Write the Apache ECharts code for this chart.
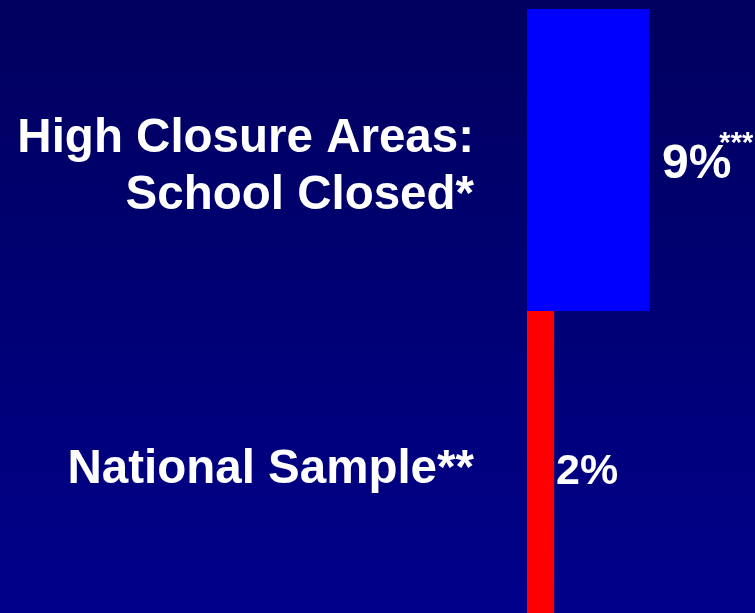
<!DOCTYPE html>
<html><head><meta charset="utf-8">
<script src="https://cdn.jsdelivr.net/npm/echarts@6/dist/echarts.min.js"></script>
<style>html,body{margin:0;padding:0;}#c{width:755px;height:613px;}</style>
</head><body><div id="c"></div>
<script>
const categories = ['High Closure Areas:\nSchool Closed*', 'National Sample**'];
const values = [9, 2];
const valueLabels = ['9%', '2%'];
const footnoteMarks = ['***', ''];
const barColors = ['#0000FF', '#FF0000'];

const chart = echarts.init(document.getElementById('c'));
const FONT = '"Liberation Sans", Arial, sans-serif';
chart.setOption({
  animation: false,
  backgroundColor: new echarts.graphic.LinearGradient(0, 0, 0, 1, [
    {offset: 0, color: '#00005E'}, {offset: 1, color: '#00008A'}
  ]),
  grid: {left: 527, right: 0, top: 9, bottom: 0, containLabel: false},
  xAxis: {type: 'value', min: 0, max: 16.82, show: false},
  yAxis: {
    type: 'category', data: categories, inverse: true,
    axisLine: {show: false}, axisTick: {show: false}, splitLine: {show: false},
    axisLabel: {
      margin: 53, align: 'right',
      formatter: v => v.split('\n').map((l, k) => (k === 0 ? '{sp| }' : '') + '{a|' + l + '}').join('\n'),
      rich: {
        a: {color: '#FFFFFF', fontFamily: FONT, fontWeight: 'bold', fontSize: 47.5, lineHeight: 57, verticalAlign: 'bottom'},
        sp: {fontSize: 1, lineHeight: 63, verticalAlign: 'bottom'}
      }
    }
  },
  series: [{
    type: 'bar', barCategoryGap: '0%',
    data: values.map((v, i) => ({
      value: v,
      itemStyle: {color: barColors[i]},
      label: {
        show: true, position: 'right',
        distance: i === 0 ? 13 : 2,
        offset: i === 0 ? [0, 5] : [0, 10],
        formatter: '{v|' + valueLabels[i] + '}' + (footnoteMarks[i] ? '{s|' + footnoteMarks[i] + '}' : ''),
        rich: {
          v: {color: '#FFFFFF', fontFamily: FONT, fontWeight: 'bold', fontSize: i === 0 ? 48 : 43, lineHeight: i === 0 ? 72 : 50},
          s: {color: '#FFFFFF', fontFamily: FONT, fontWeight: 'bold', fontSize: 29, lineHeight: 29, verticalAlign: 'top', padding: [0, 0, 0, -12]}
        }
      }
    }))
  }]
});
</script></body></html>
